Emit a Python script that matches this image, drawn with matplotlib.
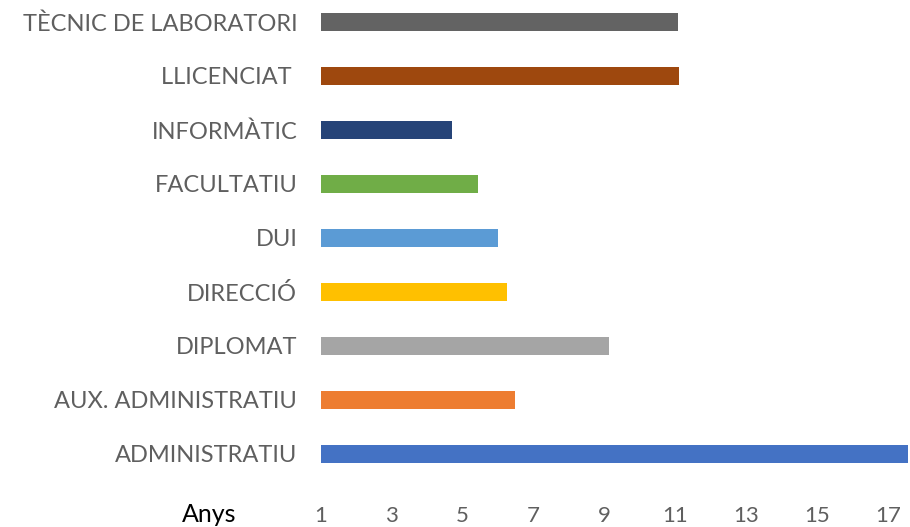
import matplotlib
matplotlib.use("Agg")
from matplotlib import pyplot as plt

# Data (bottom to top)
categories = ["ADMINISTRATIU", "AUX. ADMINISTRATIU", "DIPLOMAT", "DIRECCIÓ", "DUI",
              "FACULTATIU", "INFORMÀTIC", "LLICENCIAT ", "TÈCNIC DE LABORATORI"]
anys = [17.57, 6.47, 9.13, 6.25, 6.0, 5.43, 4.70, 11.10, 11.07]
colors = ["#4472C4", "#ED7D31", "#A5A5A5", "#FFC000", "#5B9BD5",
          "#70AD47", "#264478", "#9E480E", "#636363"]
ticks = [1, 3, 5, 7, 9, 11, 13, 15, 17]

plt.rcParams['font.family'] = ['Lato', 'DejaVu Sans']

fig = plt.figure(figsize=(9.1, 5.27), dpi=100)
ax = fig.add_axes([0.3527, 0.0873, 0.6473, 0.9222])

y = range(len(categories))
ax.barh(y, [v - 1 for v in anys], left=1, height=0.34, color=colors)

ax.set_xlim(1, 17.62)
ax.set_ylim(-0.5, len(categories) - 0.5)
ax.set_yticks(list(y))
ax.set_yticklabels(categories, fontsize=17, color="#5f5f5f")
ax.set_xticks(ticks)
ax.set_xticklabels([str(t) for t in ticks], fontsize=16, color="#5f5f5f")
ax.tick_params(axis="both", length=0)
ax.tick_params(axis="y", pad=17)
ax.tick_params(axis="x", pad=18)
for s in ax.spines.values():
    s.set_visible(False)

fig.text(209 / 910, 1 - 514 / 527, "Anys", fontsize=18, color="black",
         ha="center", va="center")

fig.savefig("out.png", dpi=100)
